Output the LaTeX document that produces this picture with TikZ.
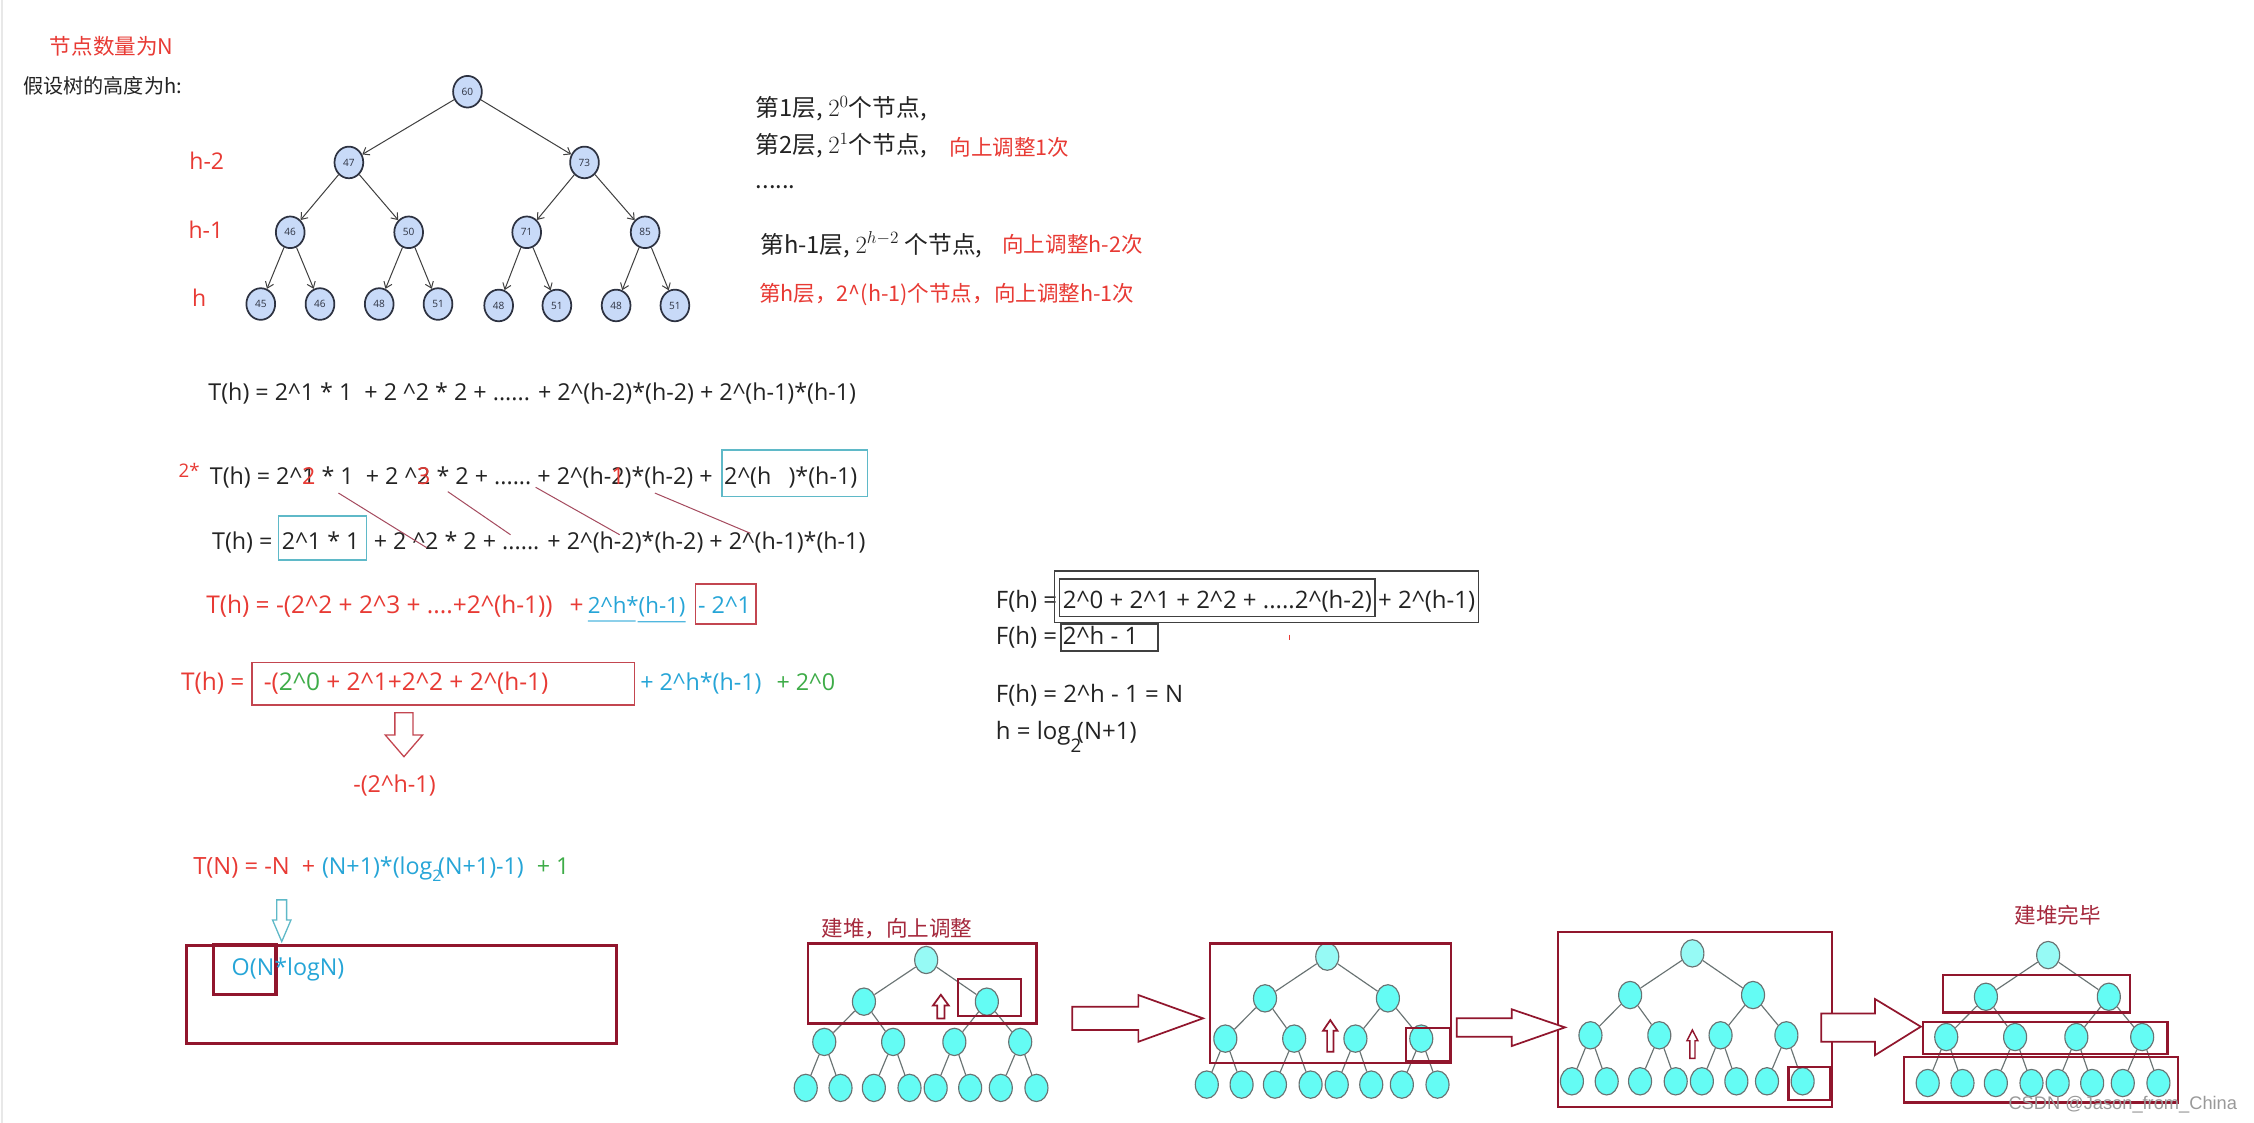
\documentclass[tikz,border=0pt]{standalone}
\usepackage{fontspec}
\setmainfont{Open Sans}
\newfontfamily\cjk{Noto Sans CJK SC}
\newfontfamily\wmfont{Liberation Sans}
\usetikzlibrary{arrows.meta,calc,shapes.geometric}
\definecolor{eqk}{RGB}{35,35,35}
\definecolor{eqred}{RGB}{232,58,52}
\definecolor{eqcyan}{RGB}{38,165,215}
\definecolor{eqgreen}{RGB}{62,172,72}
\definecolor{cybox}{RGB}{95,185,200}
\definecolor{rboxc}{RGB}{195,70,80}
\definecolor{mrn}{RGB}{145,22,45}
\definecolor{mrnlab}{RGB}{165,40,60}
\definecolor{slantc}{RGB}{165,75,95}
\definecolor{tnfill}{RGB}{200,218,248}
\definecolor{tnline}{RGB}{45,50,65}
\definecolor{hfill}{RGB}{100,252,244}
\definecolor{hrootc}{RGB}{150,250,245}
\definecolor{hline}{RGB}{105,115,115}
\newcommand{\crt}{\textasciicircum}
\newcommand{\eqfont}{\fontsize{16.2}{19}\selectfont}
\newcommand{\redfont}{\fontsize{17}{19}\selectfont}
\newcommand{\ffont}{\fontsize{16.7}{19}\selectfont}
\newcommand{\heaptree}[3]{%
  \begin{scope}[shift={(#2,#3)}]
    \node[hrootn] (#1-r) at (0,0) {};
    \node[hnode] (#1-a) at (-43.3,29) {};
    \node[hnode] (#1-b) at (42.2,29) {};
    \node[hnode] (#1-c) at (-70.9,57) {};
    \node[hnode] (#1-d) at (-23,57) {};
    \node[hnode] (#1-e) at (19.6,57) {};
    \node[hnode] (#1-f) at (65.4,57) {};
    \node[hnode] (#1-g) at (-83.8,89) {};
    \node[hnode] (#1-h) at (-59.6,89) {};
    \node[hnode] (#1-i) at (-36.4,89) {};
    \node[hnode] (#1-j) at (-11.6,89) {};
    \node[hnode] (#1-k) at (6.6,89) {};
    \node[hnode] (#1-l) at (30.6,89) {};
    \node[hnode] (#1-m) at (51.9,89) {};
    \node[hnode] (#1-n) at (76.7,89) {};
    \draw[hedge] (#1-r) -- (#1-a);
    \draw[hedge] (#1-r) -- (#1-b);
    \draw[hedge] (#1-a) -- (#1-c);
    \draw[hedge] (#1-a) -- (#1-d);
    \draw[hedge] (#1-b) -- (#1-e);
    \draw[hedge] (#1-b) -- (#1-f);
    \draw[hedge] (#1-c) -- (#1-g);
    \draw[hedge] (#1-c) -- (#1-h);
    \draw[hedge] (#1-d) -- (#1-i);
    \draw[hedge] (#1-d) -- (#1-j);
    \draw[hedge] (#1-e) -- (#1-k);
    \draw[hedge] (#1-e) -- (#1-l);
    \draw[hedge] (#1-f) -- (#1-m);
    \draw[hedge] (#1-f) -- (#1-n);
  \end{scope}}
\tikzset{
  eq/.style={font=\eqfont, inner sep=0pt, outer sep=0pt, anchor=base west, text=eqk},
  cj/.style={font={\cjk\fontsize{16.5}{19}\selectfont}, inner sep=0pt, outer sep=0pt, anchor=base west, text=eqk},
  cjr/.style={font={\cjk\fontsize{15}{18}\selectfont}, inner sep=0pt, outer sep=0pt, anchor=base west, text=eqred},
  lvl/.style={font=\fontsize{16}{18}\selectfont, text=eqred, inner sep=0pt, anchor=west},
  tnode/.style={ellipse, draw=tnline, line width=1.2pt, fill=tnfill, minimum width=20pt, minimum height=22pt, inner sep=0pt, font=\fontsize{7}{8}\selectfont, text=tnline},
  tarrow/.style={draw=black!75, line width=0.7pt, -{Straight Barb[length=4pt,width=6pt]}},
  hnode/.style={ellipse, draw=hline, line width=0.8pt, fill=hfill, minimum width=16pt, minimum height=19pt, inner sep=0pt},
  hrootn/.style={hnode, fill=hrootc},
  hedge/.style={draw=hline, line width=0.8pt},
  mbox/.style={draw=mrn, line width=1.5pt},
  bigm/.style={draw=mrn, line width=2.2pt},
  harrow/.style={draw=mrn, line width=1.2pt, fill=white, line join=miter},
  cyb/.style={draw=cybox, line width=1pt},
  rb/.style={draw=rboxc, line width=1pt},
  kb/.style={draw=black!75, line width=0.9pt},
  slantline/.style={draw=slantc, line width=0.7pt},
}
\begin{document}
\begin{tikzpicture}[x=1pt,y=-1pt]
\useasboundingbox[fill=white] (0,0) rectangle (1568,781);
\fill[black!9] (0.6,0) rectangle (2.2,781);

% ---------- top left ----------
\node[font={\cjk\fontsize{15}{18}\selectfont}, text=eqred, anchor=west, inner sep=0pt] (title) at (34.5,32.5) {节点数量为N};
\node[font={\cjk\fontsize{14}{17}\selectfont}, text=eqk, anchor=west, inner sep=0pt] (assume) at (16,59.8) {假设树的高度为h:};

% ---------- top tree ----------
\node[tnode] (n60) at (325.2,63.8) {60};
\node[tnode] (n47) at (242.7,113) {47};
\node[tnode] (n73) at (406.6,113) {73};
\node[tnode] (n46) at (201.9,161.6) {46};
\node[tnode] (n50) at (284.3,161.6) {50};
\node[tnode] (n71) at (366.4,161.6) {71};
\node[tnode] (n85) at (448.8,161.6) {85};
\node[tnode] (l1) at (181.4,211.5) {45};
\node[tnode] (l2) at (222.6,211.5) {46};
\node[tnode] (l3) at (263.8,211.5) {48};
\node[tnode] (l4) at (304.7,211.5) {51};
\node[tnode] (l5) at (346.9,212.5) {48};
\node[tnode] (l6) at (387.4,212.5) {51};
\node[tnode] (l7) at (428.6,212.5) {48};
\node[tnode] (l8) at (469.5,212.5) {51};
\draw[tarrow] (n60) -- (n47);
\draw[tarrow] (n60) -- (n73);
\draw[tarrow] (n47) -- (n46);
\draw[tarrow] (n47) -- (n50);
\draw[tarrow] (n73) -- (n71);
\draw[tarrow] (n73) -- (n85);
\draw[tarrow] (n46) -- (l1);
\draw[tarrow] (n46) -- (l2);
\draw[tarrow] (n50) -- (l3);
\draw[tarrow] (n50) -- (l4);
\draw[tarrow] (n71) -- (l5);
\draw[tarrow] (n71) -- (l6);
\draw[tarrow] (n85) -- (l7);
\draw[tarrow] (n85) -- (l8);
\node[lvl] (lh2) at (131.6,112) {h-2};
\node[lvl] (lh1) at (131,160) {h-1};
\node[lvl] (lh) at (133.5,207) {h};

% ---------- top right ----------
\node[cj] (lay1) at (525.8,81) {第1层, $2^{0}$个节点,};
\node[cj] (lay2) at (525.8,106.5) {第2层, $2^{1}$个节点,};
\node[cjr] (adj1) at (660.6,108.5) {向上调整1次};
\node[cj] (dots) at (525.8,131) {......};
\node[cj] (layh1) at (529,176) {第h-1层, $2^{h-2}$ 个节点,};
\node[cjr] (adjh2) at (697.3,175.5) {向上调整h-2次};
\node[cjr] (layh) at (528,209.5) {第h层，2\crt(h-1)个节点，向上调整h-1次};

% ---------- row 1 ----------
\node[eq] (row1) at (145,278.5) {T(h) = 2\crt1 * 1\ \ + 2 \crt2 * 2 + ...... + 2\crt(h-2)*(h-2) + 2\crt(h-1)*(h-1)};

% ---------- row 2 ----------
\node[eq, text=eqred, font=\fontsize{13}{15}\selectfont] (two) at (124.3,332) {2*};
\node[eq] (r2a) at (146,337) {T(h) = 2\crt};
\node[eq] (r2b) at (r2a.base east) {1};
\node[eq, anchor=base, text=eqred] (r2bx) at (r2b.base) {2};
\node[eq] (r2c) at (r2b.base east) {\ * 1\ \ + 2 \crt};
\node[eq] (r2d) at (r2c.base east) {2};
\node[eq, anchor=base, text=eqred] (r2dx) at (r2d.base) {3};
\node[eq] (r2e) at (r2d.base east) {\ * 2 + ......};
\node[eq] (r2f) at (r2e.base east) {\ + 2\crt(h-};
\node[eq] (r2g) at (r2f.base east) {2};
\node[eq, anchor=base, text=eqred] (r2gx) at (r2g.base) {1};
\node[eq] (r2h) at (r2g.base east) {)*(h-2) +};
\node[eq] (r2i) at ($(r2h.base east)+(8,0)$) {2\crt(h\hspace{12pt})*(h-1)};
\draw[cyb] ($(r2i.base west)+(-1.6,-24.1)$) rectangle ($(r2i.base east)+(7,8.3)$);

% ---------- row 3 ----------
\node[eq] (r3a) at (147.6,382) {T(h) =};
\node[eq] (r3b) at ($(r3a.base east)+(6.6,0)$) {2\crt1 * 1};
\draw[cyb] ($(r3b.base west)+(-2.3,-23)$) rectangle ($(r3b.base east)+(5,7.5)$);
\node[eq] (r3c) at ($(r3b.base east)+(10,0)$) {+ 2 \crt};
\node[eq] (r3d) at (r3c.base east) {2 * 2 +};
\node[eq] (r3e) at (r3d.base east) {\ ...... + 2\crt(h};
\node[eq] (r3f) at (r3e.base east) {-2)*(h-2) + 2\crt};
\node[eq] (r3g) at (r3f.base east) {(h-1)*(h-1)};

\coordinate (s1) at ($(r2b.base east)+(16,6)$);
\coordinate (e1) at ($(r3d.base west)+(1,-1)$);
\coordinate (s2) at ($(r2d.base east)+(12,5)$);
\coordinate (e2) at ($(r3e.base west)+(10,-10)$);
\coordinate (s3) at ($(r2e.base east)+(3,2)$);
\coordinate (e3) at ($(r3f.base west)+(4,-10)$);
\coordinate (s4) at ($(r2h.base west)+(21,6)$);
\coordinate (e4) at ($(r3g.base west)+(-3,-11)$);
\draw[slantline] (s1) -- (e1);
\draw[slantline] (s2) -- (e2);
\draw[slantline] (s3) -- (e3);
\draw[slantline] (s4) -- (e4);

% ---------- row 4 ----------
\node[eq, text=eqred, font=\redfont] (r4a) at (143.6,426.5) {T(h) = -(2\crt2 + 2\crt3 + ....+2\crt(h-1))};
\node[eq, text=eqred, font=\redfont] (r4p) at (396.2,426.5) {+};
\node[eq, text=eqcyan, font=\fontsize{15.5}{18}\selectfont] (r4b) at (409,426.5) {2\crt h*(h-1)};
\coordinate (u1) at ($(r4b.base west)!0.49!(r4b.base east)$);
\coordinate (u2) at ($(r4b.base west)!0.51!(r4b.base east)$);
\draw[draw=eqcyan!80, line width=0.9pt] ($(r4b.base west)+(0,5.5)$) -- ($(u1)+(0,5.5)$);
\draw[draw=eqcyan!80, line width=0.9pt] ($(u2)+(0,6)$) -- ($(r4b.base east)+(0,6)$);
\node[eq, text=eqcyan] (r4c) at (485.7,426.5) {- 2\crt1};
\draw[rb] ($(r4c.base west)+(-2,-20.2)$) rectangle ($(r4c.base east)+(3.6,7.5)$);

% ---------- row 5 ----------
\node[eq, text=eqred, font=\redfont] (r5a) at (126,480) {T(h) =};
\node[eq, text=eqred, font=\redfont] (r5b) at (183.5,480) {-({\color{eqgreen}2\crt0} + 2\crt1+2\crt2 + 2\crt(h-1)};
\node[eq, text=eqcyan] (r5c) at (445.4,480) {+ 2\crt h*(h-1)};
\node[eq, text=eqgreen] (r5d) at (540.2,480) {+ 2\crt0};
\draw[rb] ($(r5b.base west)+(-8.3,-19)$) rectangle ($(r5c.base west)+(-4,10.5)$);

\draw[draw=rboxc, line width=0.9pt, fill=white, line join=miter]
  (274.7,495.8) -- (287.3,495.8) -- (287.3,511.3) -- (294,511.3) -- (281,526.4) -- (268,511.3) -- (274.7,511.3) -- cycle;
\node[eq, text=eqred] (r6) at (245.8,551.5) {-(2\crt h-1)};

% ---------- T(N) ----------
\node[eq, text=eqred, font=\fontsize{16.5}{19}\selectfont] (tn1) at (134.5,608.5) {T(N) = -N};
\node[eq, text=eqred] (tn2) at (210,608.5) {+};
\node[eq, text=eqcyan] (tn3) at (224,608.5) {(N+1)*(log};
\node[eq, text=eqcyan, font=\fontsize{11}{12}\selectfont] (tns) at ($(tn3.base east)+(0,5)$) {2};
\node[eq, text=eqcyan] (tn4) at ($(tn3.base east)+(4,0)$) {(N+1)-1)};
\node[eq, text=eqgreen] (tn5) at (373.4,608.5) {+ 1};
\draw[draw=cybox, line width=0.9pt, fill=white, line join=miter]
  (192.5,626) -- (199.4,626) -- (199.4,640) -- (202.4,640) -- (196,655) -- (189.6,640) -- (192.5,640) -- cycle;
\draw[bigm] (129.9,658) rectangle (429,725.8);
\draw[bigm] (148.4,657.4) rectangle (192,692);
\node[eq, text=eqcyan] (onl) at (161.2,678.5) {O(N*logN)};

% ---------- F(h) ----------
\node[eq, font=\ffont] (f1) at (692.8,423) {F(h) =};
\node[eq, font=\ffont] (f2) at (739.4,423) {2\crt0 + 2\crt1 + 2\crt2 + .....2\crt(h-2)};
\node[eq, font=\ffont] (f3) at (f2.base east) {\ + 2\crt(h-1)};
\draw[kb] ($(f2.base west)+(-2.6,-20.2)$) rectangle ($(f2.base east)+(2.2,6)$);
\draw[kb] ($(f2.base west)+(-5.8,-25.7)$) rectangle ($(f3.base east)+(2,10)$);
\node[eq, font=\ffont] (f4) at (692.8,448.5) {F(h) =};
\node[eq, font=\ffont] (f5) at (739.4,448.5) {2\crt h - 1};
\draw[kb] ($(f5.base west)+(-1.4,-14.5)$) rectangle ($(f5.base east)+(13.7,4.4)$);
\draw[eqred, line width=0.8pt] (897.3,441.5) -- (897.3,445.5);
\node[eq, font=\ffont] (f6) at (692.8,489) {F(h) = 2\crt h - 1 = N};
\node[eq, font=\ffont] (f7) at (692.8,514.5) {h = log\raisebox{-9pt}{\fontsize{13}{14}\selectfont 2}\kern-3pt(N+1)};

% ---------- bottom trees ----------
\node[font={\cjk\fontsize{15}{18}\selectfont}, text=mrnlab, anchor=west, inner sep=0pt] (lab1) at (571.3,645.8) {建堆，向上调整};
\node[font={\cjk\fontsize{15}{18}\selectfont}, text=mrnlab, anchor=west, inner sep=0pt] (lab4) at (1401.4,636.5) {建堆完毕};

\heaptree{ta}{644.3}{667.8}
\heaptree{tb}{923.3}{665.5}
\heaptree{tc}{1177.3}{663.2}
\heaptree{td}{1424.8}{664.4}

\draw[mbox] (562,656.3) rectangle (721,712);
\draw[mbox] (666.7,681) rectangle (710.5,706.6);
\draw[mbox] (841.6,656.3) rectangle (1009.3,739.3);
\draw[mbox] (978.2,714.9) rectangle (1008.7,737.9);
\draw[mbox] (1083.6,648.6) rectangle (1274.3,769.9);
\draw[mbox] (1244.2,742) rectangle (1273.3,765.2);
\draw[mbox] (1351.9,678.3) rectangle (1481.7,704.3);
\draw[mbox] (1337.9,711.2) rectangle (1507.8,733.5);
\draw[mbox] (1324.5,735.1) rectangle (1515.2,766.9);

% hollow up arrows
\draw[harrow] (654.5,692) -- (660,699.5) -- (657,699.5) -- (657,708.5) -- (652,708.5) -- (652,699.5) -- (649,699.5) -- cycle;
\draw[harrow] (925.4,709.6) -- (930.4,717) -- (927.6,717) -- (927.6,731.6) -- (923.2,731.6) -- (923.2,717) -- (920.4,717) -- cycle;
\draw[harrow, line width=1pt] (1177.3,716.5) -- (1181.1,724) -- (1179.1,724) -- (1179.1,736.3) -- (1175.5,736.3) -- (1175.5,724) -- (1173.5,724) -- cycle;

% hollow right arrows
\draw[harrow] (745.9,700.3) -- (791.9,700.3) -- (791.9,692.2) -- (836.9,708.4) -- (791.9,724.7) -- (791.9,716.5) -- (745.9,716.5) -- cycle;
\draw[harrow] (1013.3,708.4) -- (1051.6,708.4) -- (1051.6,702.1) -- (1088.7,714.7) -- (1051.6,727.7) -- (1051.6,721.2) -- (1013.3,721.2) -- cycle;
\draw[harrow] (1267,705) -- (1304.4,705) -- (1304.4,695) -- (1336.2,714.2) -- (1304.4,734) -- (1304.4,724.7) -- (1267,724.7) -- cycle;

% watermark
\node[font={\wmfont\fontsize{12.7}{14}\selectfont}, text=black!40, anchor=west, inner sep=0pt] (wm) at (1397,768.7) {CSDN @Jason\_from\_China};
\end{tikzpicture}
\end{document}
